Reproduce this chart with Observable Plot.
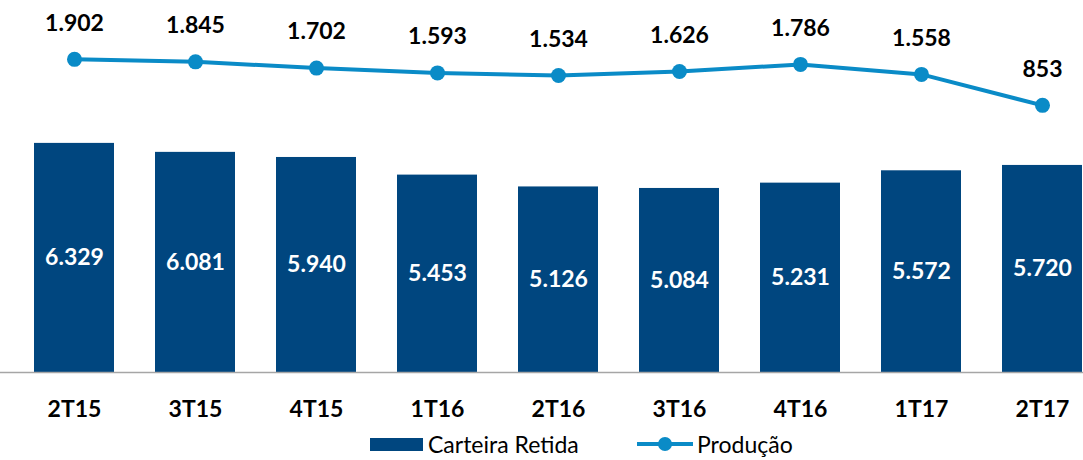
<!DOCTYPE html>
<html>
<head>
<meta charset="utf-8">
<script src="https://cdn.jsdelivr.net/npm/d3@7"></script>
<script src="https://cdn.jsdelivr.net/npm/@observablehq/plot@0.6"></script>
<style>
  html, body { margin: 0; padding: 0; background: #fff; overflow: hidden; }
  #chart svg { overflow: hidden; display: block; }
  #legend { position: relative; height: 32px; width: 1083px; font-family: Lato, "Open Sans", sans-serif; font-size: 23px; color: #000; }
  .item { position: absolute; top: 0; height: 32px; display: flex; align-items: center; }
</style>
</head>
<body>
<div id="chart"></div>
<div id="legend">
  <div class="item" style="left:370px">
    <svg width="53" height="13" style="margin-right:5px"><rect width="53" height="13" fill="#00467f"></rect></svg>
    <span>Carteira Retida</span>
  </div>
  <div class="item" style="left:637px">
    <svg width="56" height="16" style="margin-right:4px"><line x1="0" x2="56" y1="8" y2="8" stroke="#0a8bc7" stroke-width="4"></line><circle cx="28" cy="8" r="7" fill="#0a8bc7"></circle></svg>
    <span>Produção</span>
  </div>
</div>
<script>
const quarters = ["2T15","3T15","4T15","1T16","2T16","3T16","4T16","1T17","2T17"];
const carteiraRetida = [6329, 6081, 5940, 5453, 5126, 5084, 5231, 5572, 5720];
const producao = [1902, 1845, 1702, 1593, 1534, 1626, 1786, 1558, 853];

const fmt = v => d3.format(",")(v).replace(/,/g, ".");
const barData = quarters.map((q, i) => ({q, v: carteiraRetida[i]}));
const lineData = quarters.map((q, i) => ({q, v: producao[i]}));

// secondary axis for Produção, expressed in primary-axis units
const sec = d3.scaleLinear().domain([0, 2000]).range([6346, 8770]);

const barColor = "#00467f";
const lineColor = "#0a8bc7";
const font = "Lato, 'Open Sans', sans-serif";

const plot = Plot.plot({
  width: 1083,
  height: 428,
  marginTop: 10,
  marginBottom: 56,
  marginLeft: 0,
  marginRight: 0,
  style: {fontFamily: font, background: "#fff", overflow: "hidden"},
  x: {domain: quarters, range: [11, 1104], paddingInner: 0.34, paddingOuter: 0.17, label: null},
  y: {domain: [0, 10000], axis: null},
  marks: [
    Plot.barY(barData, {x: "q", y: "v", fill: barColor}),
    Plot.ruleY([0], {stroke: "#a6a6a6", strokeWidth: 1.5}),
    Plot.text(barData, {x: "q", y: d => d.v / 2, text: d => fmt(d.v), fill: "#fff", fontSize: 23, fontWeight: "bold"}),
    Plot.line(lineData, {x: "q", y: d => sec(d.v), stroke: lineColor, strokeWidth: 4}),
    Plot.dot(lineData, {x: "q", y: d => sec(d.v), r: 7.5, fill: lineColor}),
    Plot.text(lineData, {x: "q", y: d => sec(d.v), text: d => fmt(d.v), dy: -36, fill: "#000", fontSize: 23, fontWeight: "bold"}),
    Plot.axisX({tickSize: 0, tickPadding: 28, fontSize: 23, fontWeight: "bold", fill: "#000", label: null})
  ]
});
document.getElementById("chart").appendChild(plot);
</script>
</body>
</html>
